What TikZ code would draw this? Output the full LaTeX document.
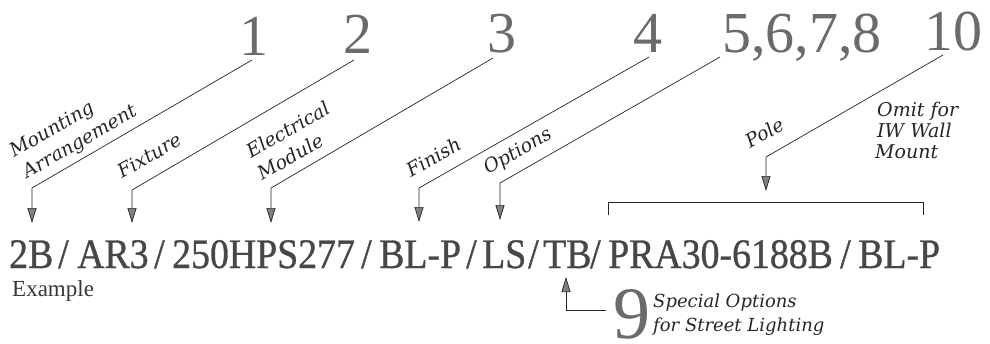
\documentclass[tikz,border=0pt]{standalone}
\usepackage{fontspec}
\setmainfont{Liberation Serif}
\newfontfamily\codefont[FakeStretch=0.9,FakeBold=0.8]{Liberation Serif}
\newfontfamily\labfont{DejaVu Serif}
\usetikzlibrary{arrows.meta}
\tikzset{
  num/.style={inner sep=0pt, anchor=base, font=\fontsize{58}{60}\selectfont, text=black!58},
  seg/.style={inner sep=0pt, anchor=base west, font=\codefont\fontsize{42}{44}\selectfont, text=black!72},
  lab/.style={inner sep=0pt, anchor=base west, rotate=30, font=\labfont\itshape\fontsize{19}{21}\selectfont, text=black!85},
  flat/.style={inner sep=0pt, anchor=base west, font=\labfont\itshape\fontsize{19}{21}\selectfont, text=black!85},
  small/.style={inner sep=0pt, anchor=base west, font=\labfont\itshape\fontsize{18}{20}\selectfont, text=black!85},
  lead/.style={line width=0.7pt, draw=black!85},
  arr/.style={lead, -{Triangle[length=15pt,width=9pt,fill=black!50]}}
}
\begin{document}
\begin{tikzpicture}[x=1pt,y=-1pt]
\useasboundingbox[fill=white] (0,0) rectangle (990,343);
% numbers
\node[num] (n1) at (254,55) {1};
\node[num] (n2) at (358,53) {2};
\node[num] (n3) at (502,52) {3};
\node[num] (n4) at (648,52) {4};
\node[num] (n5) at (802,52) {5,6,7,8};
\node[num] (n10) at (953,50) {10};
% code segments
\node[seg] (s1) at (9,268) {2B};
\node[seg] (d1) at (58,268) {/};
\node[seg] (s2) at (77,268) {AR3};
\node[seg] (d2) at (154,268) {/};
\node[seg] (s3) at (172,268) {250HPS277};
\node[seg] (d3) at (361,268) {/};
\node[seg] (s4) at (379,268) {BL-P};
\node[seg] (d4) at (466,268) {/};
\node[seg] (s5) at (482,268) {LS};
\node[seg] (d5) at (528,268) {/};
\node[seg] (s9) at (543,268) {TB};
\node[seg] (d6) at (590,268) {/};
\node[seg] (s10) at (608,268) {PRA30-6188B};
\node[seg] (d7) at (840,268) {/};
\node[seg] (s11) at (858,268) {BL-P};
\node[inner sep=0pt, anchor=base west, font=\fontsize{23}{25}\selectfont, text=black!78] (ex) at (12,296) {Example};
% rotated labels
\node[lab] (l1a) at (14,158) {Mounting};
\node[lab] (l1b) at (27,179) {Arrangement};
\node[lab] (l2) at (122,179) {Fixture};
\node[lab] (l3a) at (251,159) {Electrical};
\node[lab] (l3b) at (262,181) {Module};
\node[lab] (l4) at (411,178) {Finish};
\node[lab] (l5) at (488,175) {Options};
\node[lab] (l10) at (750,149) {Pole};
\node[flat] (o1) at (877,116) {Omit for};
\node[flat] (o2) at (877,137) {IW Wall};
\node[flat] (o3) at (875,158) {Mount};
% nine
\node[num, font=\fontsize{74}{76}\selectfont, text depth=0pt] (n9) at (632,338) {9};
\node[small] (sp1) at (653,307) {Special Options};
\node[small] (sp2) at (653,331) {for Street Lighting};
% leader coordinates
\coordinate (a1) at (252,60);  \coordinate (k1) at (32,188);  \coordinate (t1) at (32,223);
\coordinate (a2) at (354,60);  \coordinate (k2) at (132,190); \coordinate (t2) at (132,223);
\coordinate (a3) at (493,58);  \coordinate (k3) at (271,188); \coordinate (t3) at (271,223);
\coordinate (a4) at (649,57);  \coordinate (k4) at (419,188); \coordinate (t4) at (419,222);
\coordinate (a5) at (720,57);  \coordinate (k5) at (500,183); \coordinate (t5) at (500,220);
\coordinate (a10) at (943,55); \coordinate (k10) at (766,157); \coordinate (t10) at (766,191);
\coordinate (a9) at (606,310); \coordinate (k9) at (566,310); \coordinate (t9) at (566,277);
\draw[arr] (a1) -- (k1) -- (t1);
\draw[arr] (a2) -- (k2) -- (t2);
\draw[arr] (a3) -- (k3) -- (t3);
\draw[arr] (a4) -- (k4) -- (t4);
\draw[arr] (a5) -- (k5) -- (t5);
\draw[arr] (a10) -- (k10) -- (t10);
\draw[arr] (a9) -- (k9) -- (t9);
% bracket over pole
\draw[lead] (608,215) -- (608,202) -- (923,202) -- (923,215);
\end{tikzpicture}
\end{document}
